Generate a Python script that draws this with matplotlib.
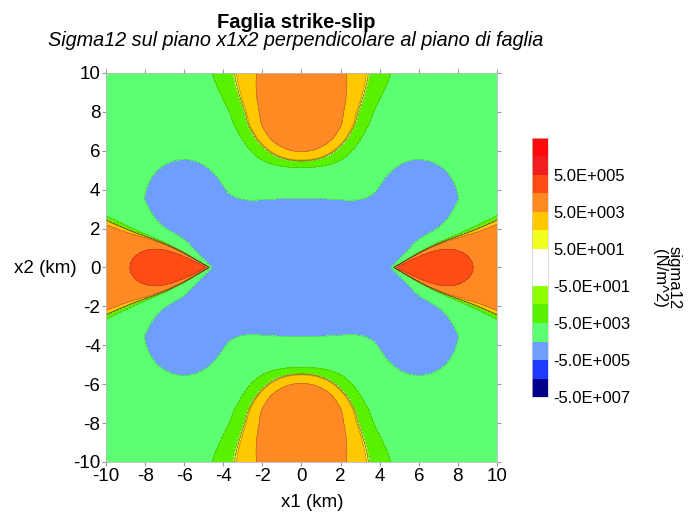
import numpy as np
import matplotlib
matplotlib.use('Agg')
import matplotlib.pyplot as plt

plt.rcParams['font.family'] = ['Liberation Sans', 'DejaVu Sans']
plt.rcParams['axes.unicode_minus'] = False

# ---- colour levels (N/m^2) and band colours ----
levels = [-5e7, -5e6, -5e5, -5e4, -5e3, -5e2, -5e1, 0, 5e1, 5e2, 5e3, 5e4, 5e5, 5e6, 5e7]
band_colors = ['#00008C', '#1E3CFF', '#6E9EFF', '#5CFF72', '#58F200', '#8CFF00',
               '#FFFFFF', '#FFFFFF', '#F2FF1E', '#FFC800', '#FF8A24', '#FF4B14',
               '#F01E1E', '#FF0A0A']
cbar_ticks = [-5e7, -5e5, -5e3, -5e1, 5e1, 5e3, 5e5]
cbar_labels = ['-5.0E+007', '-5.0E+005', '-5.0E+003', '-5.0E+001',
               '5.0E+001', '5.0E+003', '5.0E+005']
axis_ticks = [-10, -8, -6, -4, -2, 0, 2, 4, 6, 8, 10]

# ---- field description (km, N/m^2) ----
background_stress = -1.5e4          # light green background
blue_edge_stress = 5e4              # magnitude at edge of central region
central_top = [3.55, 0.017]         # top edge height, curvature
notch_tip = [4.6, 0.95]             # V-notch tip x1, slope
finger_center = [6.0, 3.6]          # four finger lobes
finger_radius = 1.8
fault_tip = 4.7                     # side wedges
wedge_slope = 0.46
wedge_base = 3.0e4
wedge_core = [1.15e5, 6.65, 1.95, 1.1]  # amplitude, x1 centre, sx, sy
# top / bottom lobes: stress on the x1 = 0 axis and lateral width vs |x2|
lobe_x2 = [4.6, 5.1, 5.5, 5.95, 6.66, 7.4, 8.5, 10.0]
lobe_peak = [0.0, 1.0e4, 1.55e4, 2.0e4, 2.65e4, 2.95e4, 2.8e4, 2.52e4]
lobe_width_x2 = [4.6, 6.66, 7.94, 10.0]
lobe_width = [3.0, 3.1, 3.54, 4.8]

x = np.linspace(-10, 10, 801)
X1, X2 = np.meshgrid(x, x)
a1, a2 = np.abs(X1), np.abs(X2)


def logistic(z):
    return 1.0 / (1.0 + np.exp(-np.clip(z, -60, 60)))


def smin(a, b, k):
    h = np.maximum(k - np.abs(a - b), 0.0) / k
    return np.minimum(a, b) - h * h * k / 4.0


def smooth_profile(xp, fp, width=0.3):
    # piecewise profile along |x2|, softened with a gaussian kernel
    step = x[1] - x[0]
    ext = np.arange(-12, 12 + step / 2, step)
    prof = np.interp(np.abs(ext), xp, fp, left=fp[0])
    k = np.arange(-4 * width, 4 * width + step / 2, step)
    ker = np.exp(-(k / width) ** 2)
    ker /= ker.sum()
    sm = np.convolve(prof, ker, mode='same')
    return np.interp(x, ext, sm)


# central negative region (signed distance)
f_top = a2 - (central_top[0] - central_top[1] * a1 ** 2)
f_v = (a1 - notch_tip[0] - notch_tip[1] * a2) / np.hypot(1.0, notch_tip[1])
f2 = np.hypot(a1 - finger_center[0], a2 - finger_center[1]) - finger_radius
sd = smin(np.maximum(smin(f_top, f2, 2.0), f_v), f2, 0.6)
N = -background_stress + (blue_edge_stress + background_stress) * np.exp(np.clip(-sd / 0.2, -60, 1.0))

# side wedges
d = a1 - fault_tip
dp = np.maximum(d, 0.0)
s_tip = logistic(d / 0.04)
s_side = logistic((wedge_slope * dp - a2) / (0.02 + 0.06 * dp))
p_core = wedge_core[0] * np.exp(-((a1 - wedge_core[1]) / wedge_core[2]) ** 2 - (X2 / wedge_core[3]) ** 2)
P_w = (wedge_base + p_core) * s_tip * s_side

# top / bottom lobes
G = smooth_profile(lobe_x2, lobe_peak, 0.25)[:, None]
W = smooth_profile(lobe_width_x2, lobe_width, 0.4)[:, None]
P_t = G * np.exp(-(X1 / W) ** 2)

sigma12 = P_w + P_t - N

fig = plt.figure(figsize=(6.89, 5.16), dpi=100)
ax = fig.add_axes([0.1538, 0.1047, 0.5675, 0.7539])
cs = ax.contourf(X1, X2, sigma12, levels=levels, colors=band_colors)
ax.contour(X1, X2, sigma12, levels=levels, colors='#303030', linewidths=0.5, alpha=0.35)
ax.set_xlim(-10, 10)
ax.set_ylim(-10, 10)
ax.set_xticks(axis_ticks)
ax.set_yticks(axis_ticks)
ax.tick_params(direction='out', length=3, color='#999999', labelsize=13.5,
               top=True, right=True, pad=1)
for s in ax.spines.values():
    s.set_color('#bbbbbb')
    s.set_linewidth(0.6)
ax.set_xlabel('x1 (km)', fontsize=13.5)
ax.xaxis.set_label_coords(0.527, -0.083)
ax.set_ylabel('x2 (km)', fontsize=13.5, rotation=0, ha='center', va='center')
ax.yaxis.set_label_coords(-0.156, 0.497)

cax = fig.add_axes([0.772, 0.2306, 0.0232, 0.502])
cb = fig.colorbar(cs, cax=cax)
cb.set_ticks(cbar_ticks)
cb.set_ticklabels(cbar_labels)
cb.ax.tick_params(length=0, labelsize=12, pad=4)
cb.outline.set_edgecolor('#cccccc')
cb.outline.set_linewidth(0.5)

fig.text(667 / 689, 1 - 278 / 516, 'sigma12\n(N/m^2)', rotation=270, ha='center', va='center',
         fontsize=12, linespacing=1.0)
fig.text(296 / 689, 1 - 22 / 516, 'Faglia strike-slip', fontsize=14.5, fontweight='bold',
         ha='center', va='center')
fig.text(296 / 689, 1 - 41 / 516, 'Sigma12 sul piano x1x2 perpendicolare al piano di faglia',
         fontsize=14.3, style='italic', ha='center', va='center')

fig.savefig('out.png', dpi=100)
